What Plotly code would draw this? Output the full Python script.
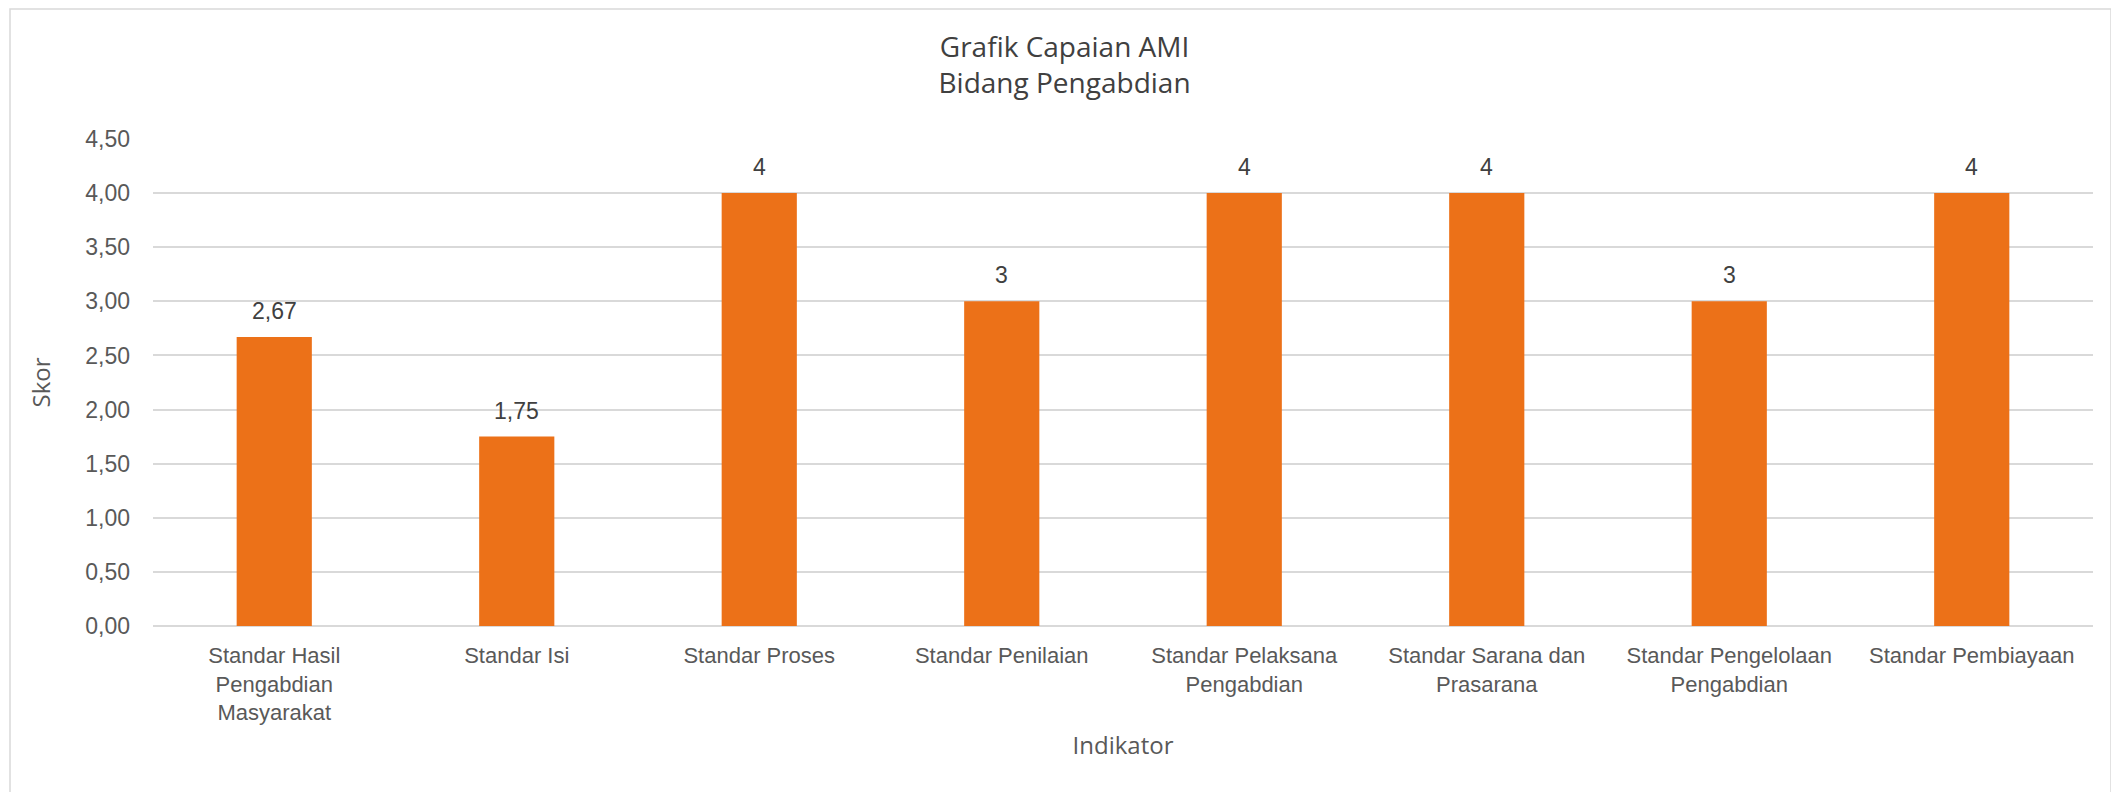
import plotly.graph_objects as go

categories = [
    "Standar Hasil<br>Pengabdian<br>Masyarakat",
    "Standar Isi",
    "Standar Proses",
    "Standar Penilaian",
    "Standar Pelaksana<br>Pengabdian",
    "Standar Sarana dan<br>Prasarana",
    "Standar Pengelolaan<br>Pengabdian",
    "Standar Pembiayaan",
]
scores = [2.67, 1.75, 4, 3, 4, 4, 3, 4]
y_ticks = [0, 0.5, 1.0, 1.5, 2.0, 2.5, 3.0, 3.5, 4.0, 4.5]

# page has an 8px body margin, so the figure is drawn at (8, 8)
W, H = 2111, 784
ML, MR, MT, MB = 145, 26, 131, 166
PW, PH = W - ML - MR, H - MT - MB

TICK_FONT = "Liberation Sans, Arial, sans-serif"
TITLE_FONT = "Open Sans, Noto Sans, sans-serif"
GREY = "#595959"

fig = go.Figure()
fig.add_trace(go.Bar(
    x=categories, y=scores,
    marker=dict(color="#EC7118", line=dict(width=0)),
    width=0.31,
    hoverinfo="x+y",
))

for c, v in zip(categories, scores):
    fig.add_annotation(
        x=c, y=v, xref="x", yref="y",
        text=f"{v:g}".replace(".", ","),
        showarrow=False, yanchor="bottom", yshift=11,
        font=dict(family=TICK_FONT, size=23, color="#404040"),
    )

# outer chart border
fig.add_shape(
    type="rect", xref="paper", yref="paper",
    x0=(2 - ML) / PW, x1=(2103 - ML) / PW,
    y0=(H - MB - 800) / PH, y1=(H - MB - 1) / PH,
    line=dict(color="#D9D9D9", width=1.5), fillcolor="rgba(0,0,0,0)",
    layer="below",
)

fig.update_layout(
    width=W, height=H,
    margin=dict(l=ML, r=MR, t=MT, b=MB, pad=0),
    paper_bgcolor="white", plot_bgcolor="white",
    separators=",.",
    showlegend=False,
    title=dict(
        text="Grafik Capaian AMI<br>Bidang Pengabdian",
        x=0.5005, xanchor="center", y=1 - 49 / H, yanchor="top",
        font=dict(family=TITLE_FONT, size=28, color="#404040"),
    ),
    xaxis=dict(
        showgrid=False, showline=False, zeroline=False,
        ticks="", ticklabelstandoff=14,
        tickfont=dict(family=TICK_FONT, size=22, color=GREY),
        title=dict(text="Indikator", standoff=12,
                   font=dict(family=TITLE_FONT, size=24, color=GREY)),
        tickangle=0,
    ),
    yaxis=dict(
        range=[0, 4.5], tickvals=y_ticks, tickformat=".2f",
        showgrid=True, gridcolor="#D9D9D9", gridwidth=1.5,
        zeroline=True, zerolinecolor="#D9D9D9", zerolinewidth=1.5,
        showline=False, ticks="", ticklabelstandoff=22,
        tickfont=dict(family=TICK_FONT, size=23, color=GREY),
        title=dict(text="Skor", standoff=27,
                   font=dict(family=TITLE_FONT, size=24, color=GREY)),
    ),
)

fig.write_html("out.html")
